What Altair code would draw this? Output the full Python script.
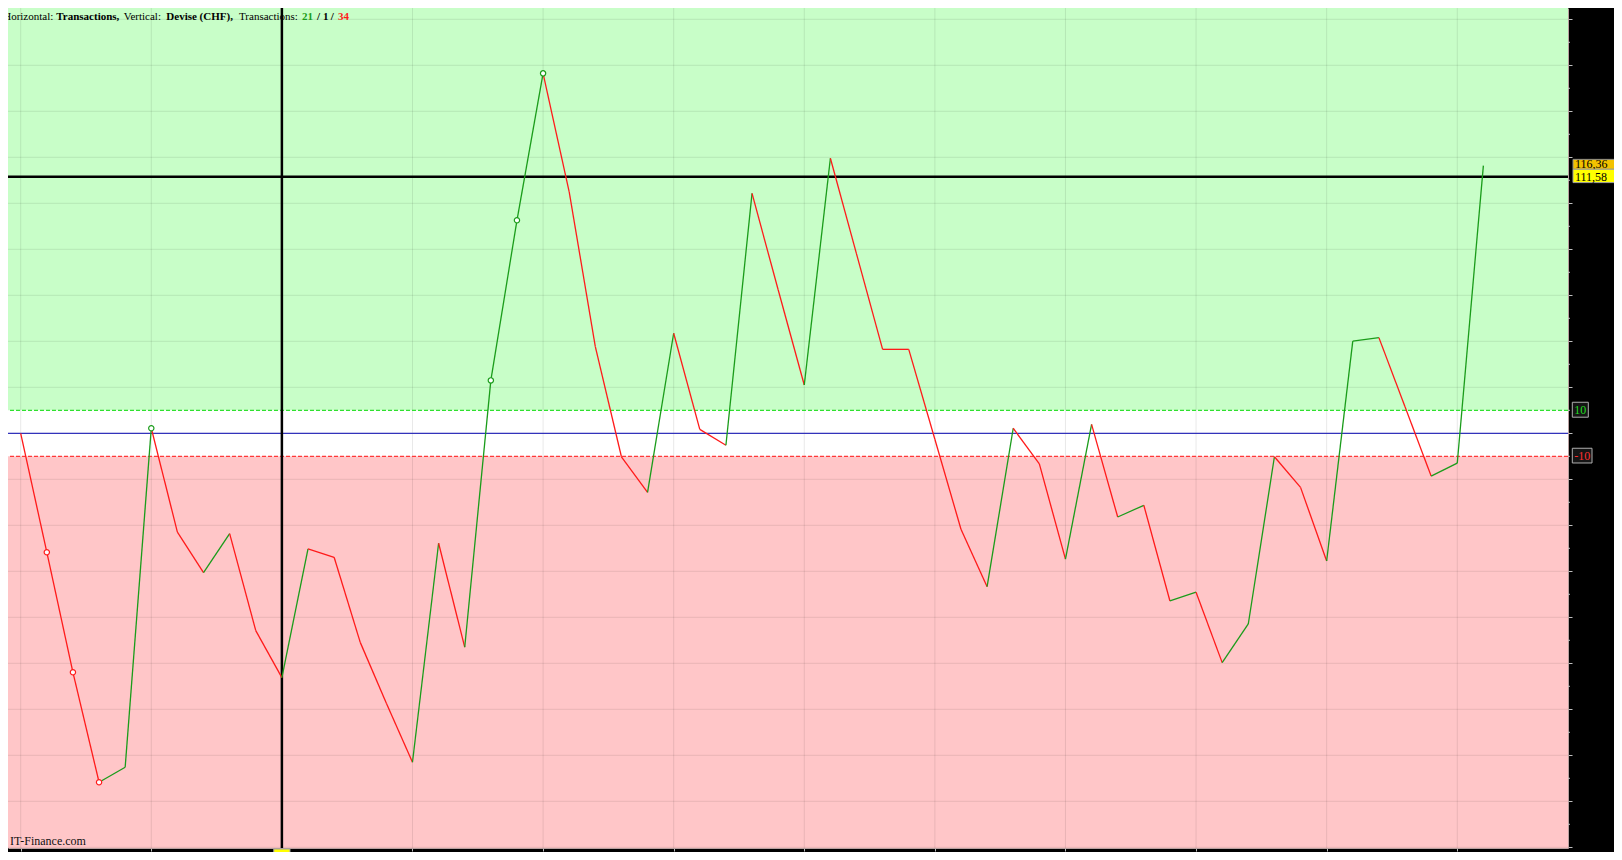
import altair as alt
import pandas as pd

# ---- data ----
values = [0, -51.7, -103.9, -151.7, -145.2, 2.2, -43.0, -60.6, -43.6, -85.8,
          -106.2, -50.2, -53.9, -90.9, -117.4, -143.0, -47.8, -93.0, 23.0, 92.6,
          156.5, 105.0, 37.7, -10.2, -25.7, 43.5, 1.7, -5.2, 104.3, 62.4,
          21.0, 119.6, 78.0, 36.5, 36.5, -2.6, -41.7, -66.7, 2.2, -13.3,
          -54.7, 3.9, -36.4, -31.3, -72.9, -69.1, -99.7, -82.9, -10.2, -23.5,
          -55.5, 40.1, 41.6, 11.5, -18.6, -13.0, 116.36]
marker_idx = [1, 2, 3, 5, 18, 19, 20]
cross_idx = 10
ref_level = 111.58
upper_th = 10
lower_th = -10
grid_y = list(range(-180, 181, 20))
minor_y = list(range(-170, 171, 20))
grid_x = list(range(0, 56, 5))
n_up, n_flat, n_down = 21, 1, 34

# ---- layout / style ----
W, H = 1560, 840
XD = [-0.486, 59.24]
YD = [-180.3, 184.91]
UP = "#1a9c1a"
DOWN = "#ff1a1a"
SERIF = "Liberation Serif"

xs = alt.Scale(domain=XD, nice=False, zero=False)
ys = alt.Scale(domain=YD, nice=False, zero=False)
xaxis = alt.Axis(values=grid_x, labels=False, grid=False, tickSize=3,
                 tickColor="#bbbbbb", domainColor="#b8a0a0", title=None, orient="bottom")
yaxis = alt.Axis(values=grid_y, labels=False, grid=False, tickSize=4,
                 tickColor="#c0c0c0", domainColor="#b8a0a0", title=None, orient="right")


def X(f):
    return alt.X(f, type="quantitative", scale=xs, axis=xaxis)


def Y(f):
    return alt.Y(f, type="quantitative", scale=ys, axis=yaxis)


def one(**kw):
    return alt.Data(values=[kw])


# segments
seg = pd.DataFrame({
    "i": list(range(len(values) - 1)),
    "v": values[:-1],
    "i2": list(range(1, len(values))),
    "v2": values[1:],
})
seg["dir"] = ["up" if b > a else "down" for a, b in zip(values[:-1], values[1:])]
pts = pd.DataFrame({
    "i": marker_idx,
    "v": [values[k] for k in marker_idx],
    "dir": ["up" if values[k] > values[k - 1] else "down" for k in marker_idx],
})
cscale = alt.Scale(domain=["up", "down"], range=[UP, DOWN])

layers = []
# background bands
layers.append(alt.Chart(one(lo=upper_th, hi=YD[1])).mark_rect(color="#c8fec8").encode(
    x=alt.value(0), x2=alt.value(W), y=Y("lo:Q"), y2="hi:Q"))
layers.append(alt.Chart(one(lo=YD[0], hi=lower_th)).mark_rect(color="#ffc6c8").encode(
    x=alt.value(0), x2=alt.value(W), y=Y("lo:Q"), y2="hi:Q"))
# grid
layers.append(alt.Chart(pd.DataFrame({"g": grid_y})).mark_rule(color="black", opacity=0.09).encode(
    y=Y("g:Q")))
layers.append(alt.Chart(pd.DataFrame({"g": grid_x})).mark_rule(color="black", opacity=0.09).encode(
    x=X("g:Q")))
# thresholds
layers.append(alt.Chart(one(t=upper_th)).mark_rule(color="#30e030", strokeDash=[4, 2], strokeWidth=1.2).encode(
    y=Y("t:Q")))
layers.append(alt.Chart(one(t=lower_th)).mark_rule(color="#ff3838", strokeDash=[4, 2], strokeWidth=1.2).encode(
    y=Y("t:Q")))
layers.append(alt.Chart(one(t=0)).mark_rule(color="#3333bb", strokeWidth=1.2).encode(
    y=Y("t:Q")))
# crosshair
layers.append(alt.Chart(one(c=cross_idx)).mark_rule(color="black", strokeWidth=2.5).encode(
    x=X("c:Q")))
layers.append(alt.Chart(one(c=ref_level)).mark_rule(color="black", strokeWidth=2.5).encode(
    y=Y("c:Q")))
# line segments
layers.append(alt.Chart(seg).mark_rule(strokeWidth=1.3).encode(
    x=X("i:Q"), y=Y("v:Q"), x2="i2:Q", y2="v2:Q",
    color=alt.Color("dir:N", scale=cscale, legend=None)))
# markers
layers.append(alt.Chart(pts).mark_point(shape="circle", filled=False, fill="white", fillOpacity=1,
                                        size=28, strokeWidth=1.2, opacity=1).encode(
    x=X("i:Q"), y=Y("v:Q"), stroke=alt.Color("dir:N", scale=cscale, legend=None)))

# minor ticks on right
layers.append(alt.Chart(pd.DataFrame({"m": minor_y})).mark_rule(color="#c0c0c0").encode(
    x=alt.value(W), x2=alt.value(W + 2), y=Y("m:Q")))

# header text
TY = 12
header = [
    ("Transactions,", 48.3, "bold", "black"),
    ("Vertical:", 115.7, "normal", "black"),
    ("Devise (CHF),", 158.3, "bold", "black"),
    ("Transactions:", 231, "normal", "black"),
    (str(n_up), 294, "bold", UP),
    ("/", 309, "bold", "black"),
    (str(n_flat), 315, "bold", "black"),
    ("/", 322.7, "bold", "black"),
    (str(n_down), 330, "bold", DOWN),
]
layers.append(alt.Chart(one(t="Horizontal:")).mark_text(
    align="right", baseline="alphabetic", font=SERIF, fontSize=11, color="black", clip=True).encode(
    x=alt.value(45.3), y=alt.value(TY), text="t:N"))
for txt, px, wt, col in header:
    layers.append(alt.Chart(one(t=txt)).mark_text(
        align="left", baseline="alphabetic", font=SERIF, fontSize=11, fontWeight=wt, color=col).encode(
        x=alt.value(px), y=alt.value(TY), text="t:N"))

# watermark
layers.append(alt.Chart(one(t="IT-Finance.com")).mark_text(
    align="left", baseline="alphabetic", font=SERIF, fontSize=12, color="#111111").encode(
    x=alt.value(2), y=alt.value(H - 3), text="t:N"))

# right side labels
def box(lo, hi, x0, x1, fill, stroke):
    return alt.Chart(one(lo=lo, hi=hi)).mark_rect(fill=fill, stroke=stroke, strokeWidth=1).encode(
        x=alt.value(x0), x2=alt.value(x1), y=Y("lo:Q"), y2="hi:Q")


def label(txt, val, px, col, align="left"):
    return alt.Chart(one(t=txt, c=val)).mark_text(
        align=align, baseline="middle", font=SERIF, fontSize=12, color=col).encode(
        x=alt.value(px), y=Y("c:Q"), text="t:N")


layers.append(box(7.0, 13.5, W + 4.3, W + 20.3, "#151515", "#b0b0b0"))
layers.append(label("10", upper_th, W + 12.3, "#22dd22", "center"))
layers.append(box(-12.9, -6.5, W + 4.3, W + 24, "#151515", "#b0b0b0"))
layers.append(label("-10", lower_th, W + 14.2, "#ff3030", "center"))
layers.append(box(114.8, 119.1, W + 5, W + 60, "#f2c200", "#8a8a8a"))
layers.append(label("116,36", 117.0, W + 7, "black"))
layers.append(box(109.0, 114.8, W + 5, W + 60, "#ffff00", "#a0a0a0"))
layers.append(label("111,58", ref_level, W + 7, "black"))

# bottom marker at crosshair
layers.append(alt.Chart(one(a=cross_idx - 0.31, b=cross_idx + 0.31)).mark_rect(
    fill="#ffff00", stroke="#a0a0a0", strokeWidth=1).encode(
    x=X("a:Q"), x2="b:Q", y=alt.value(H + 1), y2=alt.value(H + 9)))

chart = alt.layer(*layers).properties(
    width=W, height=H,
    autosize=alt.AutoSizeParams(type="none"),
    padding={"left": 0, "top": 0, "right": 46, "bottom": 4},
    background="black",
).configure_view(strokeWidth=0, fill="white")

chart.save("out.html", embed_options={"renderer": "svg", "actions": False})
